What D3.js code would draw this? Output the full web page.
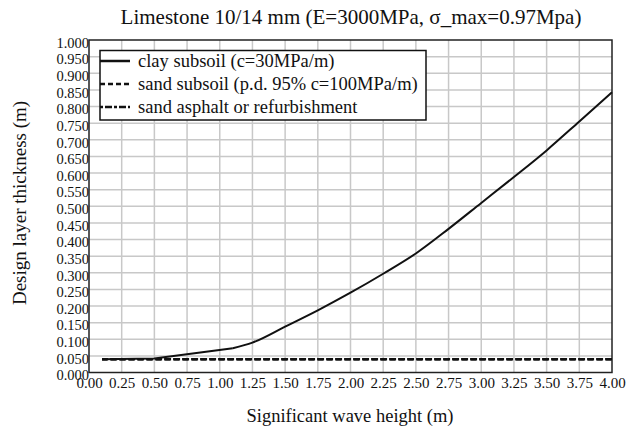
<!DOCTYPE html>
<html><head><meta charset="utf-8">
<script src="https://cdn.jsdelivr.net/npm/d3@7"></script>
<style>body{margin:0;background:#fff}svg{display:block}
svg text{font-family:"Liberation Serif","Times New Roman",serif;fill:#111}</style>
</head><body><svg id="c" width="630" height="431"></svg>
<script>
const clayX = [0.1, 0.5, 1.1, 1.25, 1.5, 1.75, 2.0, 2.25, 2.5, 2.75, 3.0, 3.25, 3.5, 3.75, 4.0];
const clayY = [0.04, 0.042, 0.073, 0.09, 0.138, 0.187, 0.24, 0.297, 0.358, 0.432, 0.51, 0.588, 0.668, 0.755, 0.843];
const sandX = [0.1, 4.0];
const sandY = [0.04, 0.04];
const asphaltX = [0.1, 4.0];
const asphaltY = [0.04, 0.04];
const seriesNames = ["clay subsoil (c=30MPa/m)", "sand subsoil (p.d. 95% c=100MPa/m)", "sand asphalt or refurbishment"];
const xTicks = d3.range(0, 4.001, 0.25);
const yTicks = d3.range(0, 1.0001, 0.05);
const title = "Limestone 10/14 mm (E=3000MPa, σ_max=0.97Mpa)";
const xLabel = "Significant wave height (m)";
const yLabel = "Design layer thickness (m)";

const svg = d3.select("#c");
const L = 89, R = 612, T = 40, B = 372.5;
const x = d3.scaleLinear().domain([0, 4]).range([L, R]);
const y = d3.scaleLinear().domain([0, 1]).range([B, T]);

svg.append("g").selectAll("line").data(xTicks.slice(1, -1)).join("line")
  .attr("x1", d => x(d)).attr("x2", d => x(d)).attr("y1", T).attr("y2", B)
  .attr("stroke", "#c8c8c8").attr("stroke-width", 1.5);
svg.append("g").selectAll("line").data(yTicks.slice(1, -1)).join("line")
  .attr("y1", d => y(d)).attr("y2", d => y(d)).attr("x1", L).attr("x2", R)
  .attr("stroke", "#c8c8c8").attr("stroke-width", 1.5);

const xAxis = d3.axisBottom(x).tickValues(xTicks).tickFormat(d3.format(".2f")).tickSize(0).tickPadding(4);
const gx = svg.append("g").attr("transform", `translate(0,${B})`).call(xAxis)
  .attr("font-family", "Liberation Serif").attr("font-size", 15);
gx.select(".domain").remove();
gx.selectAll("text").attr("fill", "#111").attr("dy", "0.75em");

const yAxis = d3.axisLeft(y).tickValues(yTicks).tickFormat(d3.format(".3f")).tickSize(0).tickPadding(0);
const gy = svg.append("g").attr("transform", `translate(${L},0)`).call(yAxis)
  .attr("font-family", "Liberation Serif").attr("font-size", 14.5);
gy.select(".domain").remove();
gy.selectAll("text").attr("fill", "#111").attr("dy", "0.5em");

svg.append("rect").attr("x", L).attr("y", T).attr("width", R - L).attr("height", B - T)
  .attr("fill", "none").attr("stroke", "#222").attr("stroke-width", 1.5);

const line = d3.line().x(d => x(d[0])).y(d => y(d[1]));
const curve = d3.line().x(d => x(d[0])).y(d => y(d[1])).curve(d3.curveMonotoneX);
svg.append("path").datum(sandX.map((v, i) => [v, sandY[i]])).attr("d", line)
  .attr("fill", "none").attr("stroke", "#111").attr("stroke-width", 2.5).attr("stroke-dasharray", "6,3");
svg.append("path").datum(asphaltX.map((v, i) => [v, asphaltY[i]])).attr("d", line)
  .attr("fill", "none").attr("stroke", "#111").attr("stroke-width", 2.5).attr("stroke-dasharray", "6,3").attr("stroke-dashoffset", 1);
const clayPts = clayX.map((v, i) => [v, clayY[i]]);
const kink = clayX.indexOf(1.1);
svg.append("path").datum(clayPts.slice(0, kink + 1)).attr("d", line)
  .attr("fill", "none").attr("stroke", "#111").attr("stroke-width", 2);
svg.append("path").datum(clayPts.slice(kink)).attr("d", curve)
  .attr("fill", "none").attr("stroke", "#111").attr("stroke-width", 2);

const lg = svg.append("g");
lg.append("rect").attr("x", 100).attr("y", 50.5).attr("width", 326).attr("height", 69.5)
  .attr("fill", "#fff").attr("stroke", "#111").attr("stroke-width", 1.5);
const dashes = [null, "5,3", "3,2,7,2"];
const rowsY = [61, 84, 107];
seriesNames.forEach((n, i) => {
  lg.append("line").attr("x1", 100).attr("x2", 130).attr("y1", rowsY[i]).attr("y2", rowsY[i])
    .attr("stroke", "#111").attr("stroke-width", 2.5).attr("stroke-dasharray", dashes[i]);
  lg.append("text").attr("x", 138).attr("y", rowsY[i]).attr("dy", "0.35em").attr("font-size", 18.5).text(n);
});

svg.append("text").attr("x", 351).attr("y", 17).attr("dy", "0.35em").attr("text-anchor", "middle")
  .attr("font-size", 21).text(title);
svg.append("text").attr("x", 350).attr("y", 416).attr("dy", "0.35em").attr("text-anchor", "middle")
  .attr("font-size", 18.5).text(xLabel);
svg.append("text").attr("transform", "translate(19,203) rotate(-90)").attr("dy", "0.35em").attr("text-anchor", "middle")
  .attr("font-size", 19).text(yLabel);
</script></body></html>
